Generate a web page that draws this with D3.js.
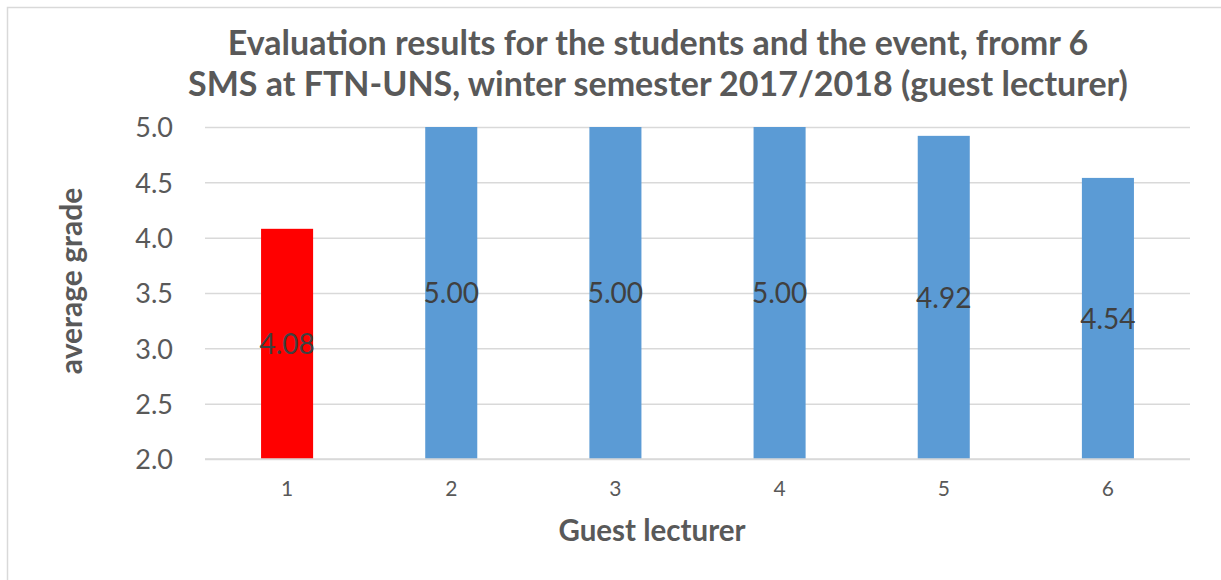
<!DOCTYPE html>
<html>
<head>
<meta charset="utf-8">
<script src="https://cdn.jsdelivr.net/npm/d3@7"></script>
<style>
  body { margin: 0; background: #fff; }
  svg text { font-family: Lato, "Open Sans", sans-serif; }
</style>
</head>
<body>
<div id="container"></div>
<script>
"use strict";

const lecturers = ["1", "2", "3", "4", "5", "6"];
const grades = [4.08, 5.0, 5.0, 5.0, 4.92, 4.54];
const barColors = ["#FF0000", "#5B9BD5", "#5B9BD5", "#5B9BD5", "#5B9BD5", "#5B9BD5"];
const yTicks = [2.0, 2.5, 3.0, 3.5, 4.0, 4.5, 5.0];
const titleLines = [
  "Evaluation results for the students and the event, fromr 6",
  "SMS at FTN-UNS, winter semester 2017/2018 (guest lecturer)"
];

const width = 1221;
const height = 580;
const plot = { left: 205, right: 1190, top: 127, bottom: 459 };

const svg = d3
  .select("#container")
  .append("svg")
  .attr("width", width)
  .attr("height", height);

// chart frame
svg
  .append("rect")
  .attr("x", 7.5)
  .attr("y", 7.5)
  .attr("width", width + 20)
  .attr("height", height + 20)
  .attr("fill", "#fff")
  .attr("stroke", "#d9d9d9")
  .attr("stroke-width", 1.5);

const xScale = d3
  .scaleBand()
  .domain(lecturers)
  .range([plot.left, plot.right])
  .paddingInner(0.683)
  .paddingOuter(0.3415);

const yScale = d3.scaleLinear().domain([2, 5]).range([plot.bottom, plot.top]);

// grid lines
const yAxis = d3
  .axisLeft(yScale)
  .tickValues(yTicks)
  .tickSize(-(plot.right - plot.left))
  .tickPadding(32)
  .tickFormat(d3.format(".1f"));

const yG = svg
  .append("g")
  .attr("transform", `translate(${plot.left}, 0)`)
  .call(yAxis);
yG.select(".domain").remove();
yG.selectAll(".tick line").attr("stroke", "#d9d9d9").attr("stroke-width", 1.5);
yG.selectAll(".tick text")
  .attr("fill", "#595959")
  .style("font-size", "27px")
  .attr("dy", "0.36em");

const xAxis = d3.axisBottom(xScale).tickSize(0).tickPadding(22);
const xG = svg
  .append("g")
  .attr("transform", `translate(0, ${plot.bottom})`)
  .call(xAxis);
xG.select(".domain").remove();
xG.selectAll(".tick text").attr("fill", "#595959").style("font-size", "21px");

// bars
svg
  .selectAll("rect.bar")
  .data(grades)
  .enter()
  .append("rect")
  .attr("class", "bar")
  .attr("x", (d, i) => xScale(lecturers[i]))
  .attr("y", (d) => yScale(d))
  .attr("width", xScale.bandwidth())
  .attr("height", (d) => yScale(2) - yScale(d))
  .attr("fill", (d, i) => barColors[i]);

// bottom axis line over bars
svg
  .append("line")
  .attr("x1", plot.left)
  .attr("x2", plot.right)
  .attr("y1", yScale(2))
  .attr("y2", yScale(2))
  .attr("stroke", "#d9d9d9")
  .attr("stroke-width", 1.5);

// value labels
svg
  .selectAll("text.value")
  .data(grades)
  .enter()
  .append("text")
  .attr("class", "value")
  .attr("x", (d, i) => xScale(lecturers[i]) + xScale.bandwidth() / 2)
  .attr("y", (d) => (yScale(d) + yScale(2)) / 2)
  .attr("dy", "0.36em")
  .attr("text-anchor", "middle")
  .attr("fill", "#404040")
  .style("font-size", "28px")
  .text((d) => d.toFixed(2));

// title
svg
  .selectAll("text.title")
  .data(titleLines)
  .enter()
  .append("text")
  .attr("class", "title")
  .attr("x", 658)
  .attr("y", (d, i) => 55 + i * 41)
  .attr("text-anchor", "middle")
  .attr("fill", "#595959")
  .style("font-size", "34px")
  .style("font-weight", "bold")
  .text((d) => d);

// axis titles
svg
  .append("text")
  .attr("x", 652)
  .attr("y", 541)
  .attr("text-anchor", "middle")
  .attr("fill", "#595959")
  .style("font-size", "29.5px")
  .style("font-weight", "bold")
  .text("Guest lecturer");

svg
  .append("text")
  .attr("text-anchor", "middle")
  .attr("transform", "translate(82, 281) rotate(-90)")
  .attr("fill", "#595959")
  .style("font-size", "30px")
  .style("font-weight", "bold")
  .text("average grade");
</script>
</body>
</html>
